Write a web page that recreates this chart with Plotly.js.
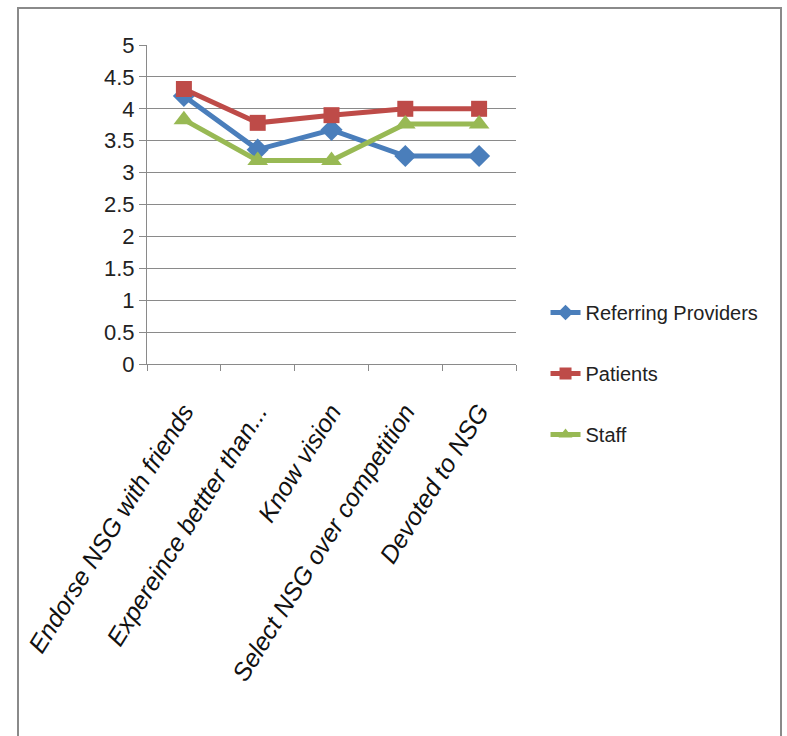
<!DOCTYPE html>
<html>
<head>
<meta charset="utf-8">
<script src="https://cdn.plot.ly/plotly-3.0.1.min.js"></script>
<style>
  html, body { margin: 0; padding: 0; background: #fff; }
  #chart { width: 787px; height: 736px; position: absolute; left: 0; top: 0; }
  #frame { position: absolute; left: 17px; top: 7px; width: 765px; height: 740px;
           border: 2px solid #8a8a8a; pointer-events: none; box-sizing: border-box; }
</style>
</head>
<body>
<div id="chart"></div>
<div id="frame"></div>
<script>
const categories = ["Endorse NSG with friends", "Expereince bettter than...", "Know vision", "Select NSG over competition", "Devoted to NSG"];
const referringProviders = [4.2, 3.36, 3.67, 3.26, 3.26];
const patients = [4.31, 3.78, 3.9, 4.0, 4.0];
const staff = [3.83, 3.19, 3.19, 3.76, 3.76];
const yTicks = [0, 0.5, 1, 1.5, 2, 2.5, 3, 3.5, 4, 4.5, 5];

const labelFont = "Liberation Sans Narrow, Arial Narrow, Liberation Sans, sans-serif";

function series(name, y, color, symbol, size) {
  return {
    type: "scatter", mode: "lines+markers", name: name, legendgroup: name,
    x: categories, y: y,
    line: { color: color, width: 5 },
    marker: { color: color, symbol: symbol, size: size }
  };
}

const data = [
  series("Referring Providers", referringProviders, "#4a7ebb", "diamond", 17),
  series("Patients", patients, "#be4b48", "square", 16),
  series("Staff", staff, "#98b954", "triangle-up", 18)
];

const layout = {
  width: 787, height: 736,
  margin: { l: 147, r: 271, t: 45, b: 372 },
  paper_bgcolor: "rgba(0,0,0,0)",
  plot_bgcolor: "rgba(0,0,0,0)",
  showlegend: true,
  legend: {
    x: 1.08, y: -0.03, xanchor: "left", yanchor: "middle",
    font: { family: labelFont, size: 20, color: "#222" },
    tracegroupgap: 32, itemsizing: "constant"
  },
  xaxis: {
    type: "category",
    showgrid: false,
    showline: true, linecolor: "#8a8a8a", linewidth: 1,
    ticks: "outside", tickson: "boundaries", ticklen: 6, tickcolor: "#8a8a8a",
    tickangle: -58,
    ticklabelstandoff: 22,
    tickfont: { family: "Liberation Sans, Arial, sans-serif", size: 25, color: "#111", style: "italic" },
    range: [-0.5, 4.5],
    fixedrange: true
  },
  yaxis: {
    range: [0, 5],
    tickvals: yTicks,
    ticktext: yTicks.map(String),
    showgrid: true, gridcolor: "#8a8a8a", gridwidth: 1,
    showline: true, linecolor: "#8a8a8a", linewidth: 1,
    ticks: "outside", ticklen: 7, tickcolor: "#8a8a8a",
    tickfont: { family: labelFont, size: 22, color: "#222" },
    zeroline: false,
    fixedrange: true
  }
};

Plotly.newPlot("chart", data, layout, { displayModeBar: false, staticPlot: true });
</script>
</body>
</html>
